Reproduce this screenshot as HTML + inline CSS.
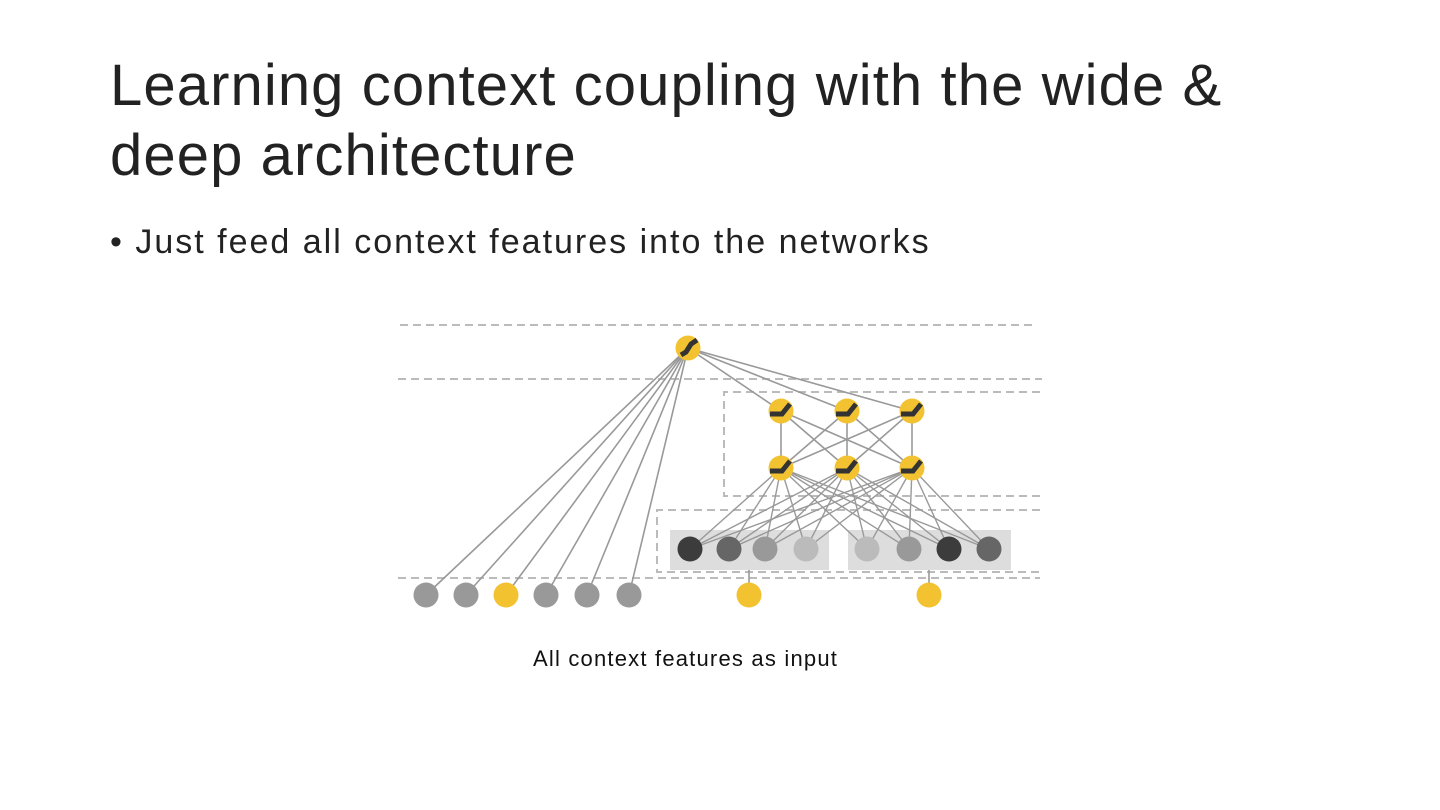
<!DOCTYPE html>
<html><head><meta charset="utf-8"><style>
html,body{margin:0;padding:0;background:#fff;width:1440px;height:810px;overflow:hidden;position:relative;font-family:"Liberation Sans",sans-serif}
.t{position:absolute;left:110px;color:#222;white-space:nowrap}
</style></head><body>
<div class="t" style="top:51px;font-size:58px;line-height:70px;letter-spacing:1.1px">Learning context coupling with the wide &amp;<br>deep architecture</div>
<div class="t" style="top:221px;font-size:34px;line-height:42px;left:110px;letter-spacing:2px">• Just feed all context features into the networks</div>
<div class="t" style="top:645px;left:533px;font-size:22px;line-height:28px;color:#111;letter-spacing:1.2px">All context features as input</div>
<svg style="position:absolute;left:0;top:0" width="1440" height="810">
<g stroke="#bbb" stroke-width="2" stroke-dasharray="8,5" fill="none">
<line x1="400" y1="325" x2="1037" y2="325"/>
<line x1="398" y1="379" x2="1042" y2="379"/>
<path d="M1040 392 H724 V496 H1040"/>
<path d="M1040 510 H657 V572 H1040"/>
<line x1="398" y1="578" x2="1040" y2="578"/>
</g>
<rect x="670" y="530" width="159" height="40" fill="#ddd"/>
<rect x="848" y="530" width="163" height="40" fill="#ddd"/>
<g stroke="#999" stroke-width="1.6">
<line x1="688" y1="348" x2="426" y2="595"/><line x1="688" y1="348" x2="466" y2="595"/>
<line x1="688" y1="348" x2="506" y2="595"/><line x1="688" y1="348" x2="546" y2="595"/>
<line x1="688" y1="348" x2="587" y2="595"/><line x1="688" y1="348" x2="629" y2="595"/>
<line x1="688" y1="348" x2="781" y2="411"/><line x1="688" y1="348" x2="847" y2="411"/><line x1="688" y1="348" x2="912" y2="411"/>
<line x1="781" y1="411" x2="781" y2="468"/><line x1="781" y1="411" x2="847" y2="468"/><line x1="781" y1="411" x2="912" y2="468"/>
<line x1="847" y1="411" x2="781" y2="468"/><line x1="847" y1="411" x2="847" y2="468"/><line x1="847" y1="411" x2="912" y2="468"/>
<line x1="912" y1="411" x2="781" y2="468"/><line x1="912" y1="411" x2="847" y2="468"/><line x1="912" y1="411" x2="912" y2="468"/>
<line x1="749" y1="570" x2="749" y2="595"/><line x1="929" y1="570" x2="929" y2="595"/>
</g>
<g stroke="#999" stroke-width="1.4" id="emb"></g>
<g id="circ"></g>
</svg>
<script>
var ns="http://www.w3.org/2000/svg",e=document.getElementById("emb"),c=document.getElementById("circ");
var ex=[690,729,765,806,867,909,949,989],ec=["#3c3c3c","#666","#999","#bbb","#bbb","#999","#3c3c3c","#666"];
[781,847,912].forEach(function(h){ex.forEach(function(x){var l=document.createElementNS(ns,"line");l.setAttribute("x1",h);l.setAttribute("y1",468);l.setAttribute("x2",x);l.setAttribute("y2",549);e.appendChild(l);});});
function circ(x,y,f){var k=document.createElementNS(ns,"circle");k.setAttribute("cx",x);k.setAttribute("cy",y);k.setAttribute("r",12.5);k.setAttribute("fill",f);c.appendChild(k);}
ex.forEach(function(x,i){circ(x,549,ec[i]);});
[[426,"#999"],[466,"#999"],[506,"#f2c230"],[546,"#999"],[587,"#999"],[629,"#999"],[749,"#f2c230"],[929,"#f2c230"]].forEach(function(a){circ(a[0],595,a[1]);});
function relu(x,y,sig){circ(x,y,"#f2c230");var p=document.createElementNS(ns,"path");
p.setAttribute("d",sig?"M"+(x-7)+" "+(y+7)+" L"+(x-2)+" "+(y+4)+" L"+(x+3)+" "+(y-4)+" L"+(x+9)+" "+(y-8):"M"+(x-11)+" "+(y+3)+" H"+(x+1)+" L"+(x+9)+" "+(y-7));
p.setAttribute("stroke","#333");p.setAttribute("stroke-width","5");p.setAttribute("fill","none");c.appendChild(p);}
relu(688,348,true);
[781,847,912].forEach(function(x){relu(x,411);relu(x,468);});
</script>
</body></html>
